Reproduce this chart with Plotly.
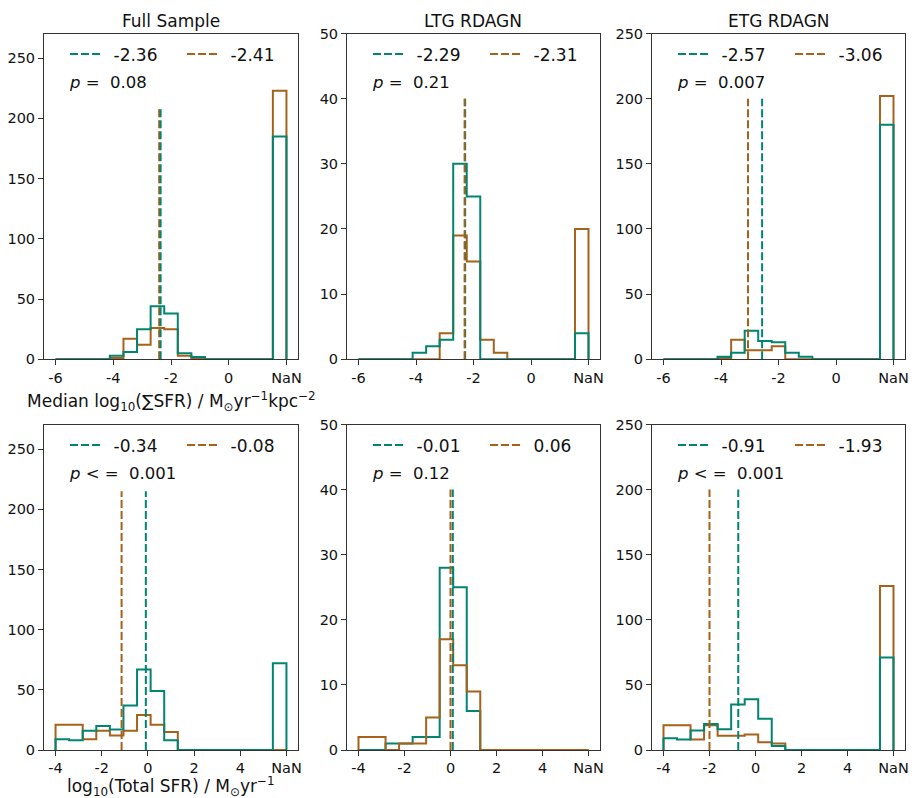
import numpy as np
import plotly.graph_objects as go

TEAL = "#018571"
BROWN = "#a6611a"
FONT = "DejaVu Sans"

# ---------------- data ----------------
panel_titles = ["Full Sample", "LTG RDAGN", "ETG RDAGN", "", "", ""]

# bin set-up (17 bins; last bin holds the NaN values)
top_bin_lo, top_bin_hi = -6, 2
bot_bin_lo, bot_bin_hi = -4, 6
n_bins = 17

top_tick_vals = [-6, -4, -2, 0, 2]
top_tick_text = ["-6", "-4", "-2", "0", "NaN"]
bot_tick_vals = [-4, -2, 0, 2, 4, 6]
bot_tick_text = ["-4", "-2", "0", "2", "4", "NaN"]

# counts: teal (first sample) and brown (second sample)
full_sfrd_teal = [0, 0, 0, 0, 3, 6, 25, 44, 38, 5, 2, 0, 0, 0, 0, 0, 185]
full_sfrd_brown = [0, 0, 0, 0, 1, 17, 12, 26, 25, 3, 1, 0, 0, 0, 0, 0, 223]
ltg_sfrd_teal = [0, 0, 0, 0, 1, 2, 3, 30, 25, 0, 0, 0, 0, 0, 0, 0, 4]
ltg_sfrd_brown = [0, 0, 0, 0, 0, 0, 4, 19, 15, 3, 1, 0, 0, 0, 0, 0, 20]
etg_sfrd_teal = [0, 0, 0, 0, 2, 5, 22, 14, 13, 5, 2, 0, 0, 0, 0, 0, 180]
etg_sfrd_brown = [0, 0, 0, 0, 1, 15, 7, 7, 10, 0, 0, 0, 0, 0, 0, 0, 202]

full_sfr_teal = [9, 8, 16, 20, 17, 37, 67, 49, 8, 0, 0, 0, 0, 0, 0, 0, 72]
full_sfr_brown = [21, 21, 9, 16, 12, 16, 29, 21, 15, 0, 0, 0, 0, 0, 0, 0, 0]
ltg_sfr_teal = [0, 0, 1, 1, 2, 2, 28, 25, 6, 0, 0, 0, 0, 0, 0, 0, 0]
ltg_sfr_brown = [2, 2, 0, 1, 1, 5, 17, 13, 9, 0, 0, 0, 0, 0, 0, 0, 0]
etg_sfr_teal = [9, 8, 15, 20, 16, 35, 39, 24, 3, 0, 0, 0, 0, 0, 0, 0, 71]
etg_sfr_brown = [19, 19, 8, 19, 11, 11, 12, 6, 5, 0, 0, 0, 0, 0, 0, 0, 126]

# median labels shown in legends
teal_labels = ["-2.36", "-2.29", "-2.57", "-0.34", "-0.01", "-0.91"]
brown_labels = ["-2.41", "-2.31", "-3.06", "-0.08", "0.06", "-1.93"]
# where the dashed median lines are drawn, and how tall they are
teal_line_x = [-2.36, -2.29, -2.57, -0.09, 0.10, -0.75]
brown_line_x = [-2.41, -2.31, -3.06, -1.14, 0.0, -2.0]
line_top = [210, 40, 200, 215, 40, 200]

p_texts = ["<i>p</i> =  0.08", "<i>p</i> =  0.21", "<i>p</i> =  0.007",
           "<i>p</i> < =  0.001", "<i>p</i> =  0.12", "<i>p</i> < =  0.001"]

y_max = [270.5, 50, 250, 270.5, 50, 250]
y_tick_step = [50, 10, 50, 50, 10, 50]
brown_on_top = [False, False, False, False, True, False]

teal_counts = [full_sfrd_teal, ltg_sfrd_teal, etg_sfrd_teal,
               full_sfr_teal, ltg_sfr_teal, etg_sfr_teal]
brown_counts = [full_sfrd_brown, ltg_sfrd_brown, etg_sfrd_brown,
                full_sfr_brown, ltg_sfr_brown, etg_sfr_brown]

xlabel_top = "Median log<sub>10</sub>(∑SFR) / M<sub>⊙</sub>yr<sup>−1</sup>kpc<sup>−2</sup>"
xlabel_bot = "log<sub>10</sub>(Total SFR) / M<sub>⊙</sub>yr<sup>−1</sup>"

# ---------------- layout geometry (page pixels) ----------------
PAGE_W, PAGE_H = 923, 798
OFF = 8  # default page margin around the figure
W, H = PAGE_W - OFF, PAGE_H - OFF
col_px = [(44, 298), (347, 600), (652, 905)]
row_px = [(33.5, 359.3), (424.5, 750)]


def fx(px):
    return (px - OFF) / W


def fy(py):
    return 1 - (py - OFF) / H


def step_xy(edges, counts):
    xs, ys = [edges[0]], [0]
    for k, c in enumerate(counts):
        xs += [edges[k], edges[k + 1]]
        ys += [c, c]
    xs.append(edges[-1])
    ys.append(0)
    return xs, ys


fig = go.Figure()
annotations = []
layout = {}

for i in range(6):
    r, c = divmod(i, 3)
    ax = "" if i == 0 else str(i + 1)
    lg = "legend" if i == 0 else f"legend{i + 1}"
    if r == 0:
        edges = np.linspace(top_bin_lo, top_bin_hi, n_bins + 1)
        xr = [top_bin_lo - 0.4, top_bin_hi + 0.4]
        tv, tt = top_tick_vals, top_tick_text
    else:
        edges = np.linspace(bot_bin_lo, bot_bin_hi, n_bins + 1)
        xr = [bot_bin_lo - 0.5, bot_bin_hi + 0.5]
        tv, tt = bot_tick_vals, bot_tick_text

    hist = [(teal_counts[i], TEAL), (brown_counts[i], BROWN)]
    if not brown_on_top[i]:
        hist = hist[::-1]
    for counts, col in hist:
        xs, ys = step_xy(edges, counts)
        fig.add_trace(go.Scatter(x=xs, y=ys, mode="lines", line=dict(color=col, width=2),
                                 showlegend=False, hoverinfo="skip",
                                 xaxis="x" + ax, yaxis="y" + ax))

    med = [(teal_line_x[i], teal_labels[i], TEAL, 1), (brown_line_x[i], brown_labels[i], BROWN, 2)]
    if i not in (1, 4):
        med = med[::-1]
    for mx, lab, col, rank in med:
        fig.add_trace(go.Scatter(x=[mx, mx], y=[0, line_top[i]], mode="lines",
                                 line=dict(color=col, width=2, dash="8px,3px"),
                                 name="\u2002" + lab, legend=lg, legendrank=rank, hoverinfo="skip",
                                 xaxis="x" + ax, yaxis="y" + ax))

    x0, x1 = col_px[c]
    y0, y1 = row_px[r]
    layout["xaxis" + ax] = dict(domain=[fx(x0), fx(x1)], range=xr, anchor="y" + ax,
                                tickvals=tv, ticktext=tt, showgrid=False, zeroline=False,
                                showline=True, mirror=True, linecolor="#333", linewidth=1,
                                ticks="outside", ticklen=5, tickcolor="#333",
                                tickfont=dict(size=14.5, family=FONT, color="#111"))
    layout["yaxis" + ax] = dict(domain=[fy(y1), fy(y0)], range=[0, y_max[i]], anchor="x" + ax,
                                tickvals=list(range(0, int(y_max[i]) + 1, y_tick_step[i])),
                                showgrid=False, zeroline=False,
                                showline=True, mirror=True, linecolor="#333", linewidth=1,
                                ticks="outside", ticklen=5, tickcolor="#333",
                                tickfont=dict(size=14.5, family=FONT, color="#111"))
    layout[lg] = dict(x=fx(x0 + 21), y=fy(y0 + 21), xanchor="left", yanchor="middle",
                      orientation="h", bgcolor="rgba(0,0,0,0)", borderwidth=0,
                      font=dict(size=17, family=FONT, color="#111"),
                      entrywidth=72, entrywidthmode="pixels", traceorder="normal")
    annotations.append(dict(text=p_texts[i], x=fx(x0 + 23), y=fy(y0 + 49), xref="paper", yref="paper",
                            xanchor="left", yanchor="middle", showarrow=False,
                            font=dict(size=16.5, family=FONT, color="#111")))
    if panel_titles[i]:
        annotations.append(dict(text=panel_titles[i], x=fx((x0 + x1) / 2), y=fy(21),
                                xref="paper", yref="paper", xanchor="center", yanchor="middle",
                                showarrow=False, font=dict(size=17, family=FONT, color="#111")))

annotations.append(dict(text=xlabel_top, x=fx(171), y=fy(401), xref="paper", yref="paper",
                        xanchor="center", yanchor="middle", showarrow=False,
                        font=dict(size=17, family=FONT, color="#111")))
annotations.append(dict(text=xlabel_bot, x=fx(171), y=fy(786), xref="paper", yref="paper",
                        xanchor="center", yanchor="middle", showarrow=False,
                        font=dict(size=17, family=FONT, color="#111")))

fig.update_layout(width=W, height=H, margin=dict(l=0, r=0, t=0, b=0, autoexpand=False),
                  paper_bgcolor="white", plot_bgcolor="white",
                  annotations=annotations, **layout)

fig.write_html("out.html")
